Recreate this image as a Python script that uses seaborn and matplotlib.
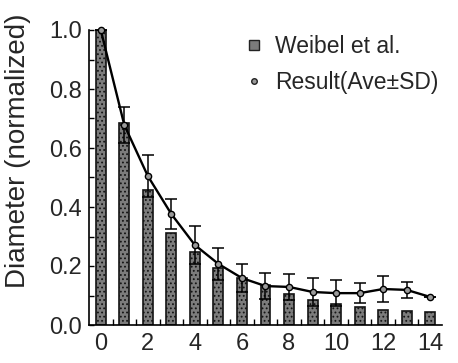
import numpy as np
import pandas as pd
import matplotlib
matplotlib.use("Agg")
import matplotlib.pyplot as plt
from matplotlib.lines import Line2D
from matplotlib.ticker import MultipleLocator, FixedLocator
import seaborn as sns

# ---- data ----
generation = list(range(15))
weibel = [1.0, 0.685, 0.458, 0.312, 0.247, 0.193, 0.160, 0.135, 0.105, 0.085,
          0.071, 0.061, 0.051, 0.047, 0.044]
result_ave = [1.0, 0.678, 0.505, 0.376, 0.271, 0.207, 0.159, 0.132, 0.129, 0.112,
              0.108, 0.108, 0.122, 0.119, 0.095]
result_sd = [0.0, 0.061, 0.070, 0.050, 0.064, 0.054, 0.047, 0.044, 0.044, 0.047,
             0.044, 0.034, 0.044, 0.027, 0.0]
x_ticks = [0, 2, 4, 6, 8, 10, 12, 14]
y_ticks = [0.0, 0.2, 0.4, 0.6, 0.8, 1.0]
legend_labels = ["Weibel et al.", "Result(Ave\u00b1SD)"]
y_label = "Diameter (normalized)"

sns.set_style("white")
plt.rcParams['font.family'] = ['Liberation Sans', 'DejaVu Sans']
plt.rcParams['hatch.color'] = '#2a2a2a'
plt.rcParams['hatch.linewidth'] = 0.8

fig = plt.figure(figsize=(4.58, 3.63), dpi=100)
ax = fig.add_axes([89/458, 1 - 325/363, (442-89)/458, (325-30)/363])

df = pd.DataFrame({"gen": generation, "weibel": weibel})
sns.barplot(data=df, x="gen", y="weibel", ax=ax, width=0.42,
            color="#7c7c7c", saturation=1, edgecolor="#141414", linewidth=1.2,
            hatch="....", zorder=1)

sns.lineplot(x=generation, y=result_ave, ax=ax, color="black", linewidth=1.7,
             marker="o", markersize=4.5, markerfacecolor="#9a9a9a",
             markeredgecolor="black", markeredgewidth=1.0, zorder=4, clip_on=False)
ax.errorbar(generation, result_ave, yerr=result_sd, fmt="none", ecolor="black",
            elinewidth=1.1, capsize=4.5, capthick=1.1, zorder=3, clip_on=False)

ax.set_xlim(-0.5, 14.5)
ax.set_ylim(0, 1.0)

ax.xaxis.set_major_locator(FixedLocator(x_ticks))
ax.set_xticklabels([str(t) for t in x_ticks])
ax.xaxis.set_minor_locator(FixedLocator([g + 0.5 for g in generation[:-1]]))
ax.yaxis.set_major_locator(FixedLocator(y_ticks))
ax.set_yticklabels([f"{t:.1f}" for t in y_ticks])
ax.yaxis.set_minor_locator(MultipleLocator(0.1))

ax.tick_params(axis="x", which="major", length=0, labelsize=17, pad=6)
ax.tick_params(axis="x", which="minor", direction="in", length=4, width=1.0,
               color="black", bottom=True)
ax.tick_params(axis="y", which="both", direction="in", length=3.5, width=1.0,
               color="black", left=True, labelsize=17, pad=5)

for s in ["top", "right"]:
    ax.spines[s].set_visible(False)
for s in ["left", "bottom"]:
    ax.spines[s].set_color("black")
    ax.spines[s].set_linewidth(1.2)

ax.set_xlabel("")
ax.set_ylabel(y_label, fontsize=20)
ax.yaxis.set_label_coords(-0.165, 0.59)

handles = [
    Line2D([], [], linestyle="none", marker="s", markersize=6.5,
           markerfacecolor="#7c7c7c", markeredgecolor="#222222", markeredgewidth=1.0),
    Line2D([], [], linestyle="none", marker="o", markersize=4,
           markerfacecolor="#9a9a9a", markeredgecolor="#222222", markeredgewidth=1.0),
]
leg = ax.legend(handles, legend_labels, loc="upper left",
                bbox_to_anchor=(245/458, 1 - 35/363), bbox_transform=fig.transFigure,
                frameon=False, fontsize=16.5, handlelength=0.8, handletextpad=0.5,
                labelspacing=0.58, borderpad=0, borderaxespad=0)

fig.savefig("out.png", dpi=100)
